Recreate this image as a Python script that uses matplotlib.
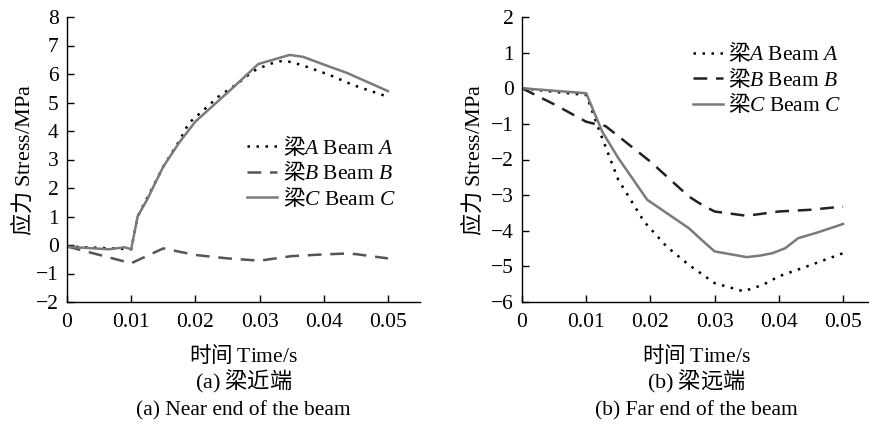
import matplotlib
matplotlib.use("Agg")
import matplotlib.pyplot as plt

plt.rcParams['font.family'] = ['Liberation Serif', 'Noto Sans CJK SC']
plt.rcParams['mathtext.fontset'] = 'custom'
plt.rcParams['mathtext.rm'] = 'Liberation Serif'
plt.rcParams['mathtext.it'] = 'Liberation Serif:italic'
plt.rcParams['mathtext.bf'] = 'Liberation Serif:bold'

CJK = 'Noto Sans CJK SC'

# ---------------- data: near end ----------------
t_near_A = [0, 0.005, 0.01, 0.011, 0.0125, 0.015, 0.0175, 0.019, 0.0215, 0.0235,
            0.0265, 0.029, 0.0315, 0.0335, 0.035, 0.0374, 0.041, 0.0446, 0.05]
near_A = [-0.05, -0.1, -0.15, 1.0, 1.65, 2.75, 3.65, 4.28, 4.78, 5.19,
          5.65, 6.1, 6.35, 6.46, 6.42, 6.25, 5.96, 5.61, 5.2]
t_near_B = [0, 0.01, 0.015, 0.02, 0.025, 0.03, 0.035, 0.04, 0.0435, 0.045, 0.05]
near_B = [-0.05, -0.64, -0.12, -0.35, -0.47, -0.55, -0.39, -0.33, -0.3, -0.32, -0.47]
t_near_C = [0, 0.0065, 0.009, 0.01, 0.011, 0.0125, 0.015, 0.0175, 0.02, 0.026, 0.0298,
            0.0347, 0.0368, 0.041, 0.0436, 0.05]
near_C = [-0.06, -0.15, -0.08, -0.15, 1.0, 1.6, 2.75, 3.6, 4.33, 5.55, 6.35,
          6.67, 6.6, 6.25, 6.04, 5.4]

# ---------------- data: far end ----------------
t_far_A = [0, 0.005, 0.01, 0.012, 0.015, 0.019, 0.0225, 0.026, 0.03, 0.0345, 0.0375,
           0.04, 0.045, 0.05]
far_A = [0, -0.1, -0.19, -1.17, -2.57, -3.74, -4.44, -4.96, -5.47, -5.7, -5.52,
         -5.28, -4.96, -4.63]
t_far_B = [0, 0.005, 0.01, 0.012, 0.013, 0.02, 0.026, 0.028, 0.03, 0.035, 0.04, 0.045, 0.05]
far_B = [0, -0.45, -0.94, -1.03, -1.06, -2.06, -3.04, -3.27, -3.46, -3.58, -3.46, -3.41, -3.32]
t_far_C = [0, 0.01, 0.0125, 0.015, 0.0195, 0.026, 0.028, 0.03, 0.035, 0.037, 0.039,
           0.041, 0.043, 0.046, 0.05]
far_C = [0, -0.14, -1.22, -1.96, -3.13, -3.93, -4.26, -4.58, -4.74, -4.7, -4.63,
         -4.49, -4.21, -4.05, -3.81]

x_ticks = [0, 0.01, 0.02, 0.03, 0.04, 0.05]
x_ticklabels = ['0', '0.01', '0.02', '0.03', '0.04', '0.05']
near_yticks = list(range(-2, 9))
far_yticks = list(range(-6, 3))

labels = [r'梁$\mathit{A}\ \mathrm{Beam}\ \mathit{A}$',
          r'梁$\mathit{B}\ \mathrm{Beam}\ \mathit{B}$',
          r'梁$\mathit{C}\ \mathrm{Beam}\ \mathit{C}$']
ylabel = r'应力 $\mathrm{Stress/MPa}$'
xlabel = r'时间 $\mathrm{Time/s}$'
cap_cn = [r'$\mathrm{(a)}$ 梁近端', r'$\mathrm{(b)}$ 梁远端']
cap_en = ['(a) Near end of the beam', '(b) Far end of the beam']

fig = plt.figure(figsize=(8.7, 4.25), dpi=100)
ax1 = fig.add_axes([67/870, 1-302/425, 353/870, 285/425])
ax2 = fig.add_axes([522/870, 1-302/425, 348/870, 285/425])

dot = (0, (1, 2.6))
dash = (0, (5.5, 3.5))
gray = '#7a7a7a'

hA, = ax1.plot(t_near_A, near_A, color='black', lw=1.8, linestyle=dot)
hB, = ax1.plot(t_near_B, near_B, color='#555555', lw=1.8, linestyle=dash)
hC, = ax1.plot(t_near_C, near_C, color=gray, lw=1.8)

gA, = ax2.plot(t_far_A, far_A, color='black', lw=1.8, linestyle=dot)
gB, = ax2.plot(t_far_B, far_B, color='#222222', lw=1.8, linestyle=dash)
gC, = ax2.plot(t_far_C, far_C, color=gray, lw=1.8)

ax1.set_xlim(0, 0.055)
ax1.set_ylim(-2, 8)
ax1.set_yticks(near_yticks)
ax2.set_xlim(0, 0.0542)
ax2.set_ylim(-6, 2)
ax2.set_yticks(far_yticks)

for ax, ylx in ((ax1, -0.092), (ax2, -0.108)):
    ax.set_xticks(x_ticks)
    ax.set_xticklabels(x_ticklabels)
    for s in ('top', 'right'):
        ax.spines[s].set_visible(False)
    ax.spines['left'].set_linewidth(1.0)
    ax.spines['bottom'].set_linewidth(1.0)
    ax.tick_params(direction='in', length=5, width=1.0, labelsize=15.5)
    ax.tick_params(axis='x', pad=8)
    ax.tick_params(axis='y', pad=6)
    ax.set_xlabel(xlabel, fontsize=15.5, family=CJK)
    ax.set_ylabel(ylabel, fontsize=16, family=CJK)
    ax.xaxis.set_label_coords(0.5, -0.145)
    ax.yaxis.set_label_coords(ylx, 0.5)

leg_kw = dict(frameon=False, handlelength=1.4, handletextpad=0.25,
              labelspacing=0.02, borderpad=0, borderaxespad=0, loc='upper left',
              prop={'family': CJK, 'size': 15.5})
ax1.legend([hA, hB, hC], labels, bbox_to_anchor=(0.51, 0.59), **leg_kw)
ax2.legend([gA, gB, gC], labels, bbox_to_anchor=(0.49, 0.918), **leg_kw)

for ax, cn, en in ((ax1, cap_cn[0], cap_en[0]), (ax2, cap_cn[1], cap_en[1])):
    bb = ax.get_position()
    xc = (bb.x0 + bb.x1) / 2
    fig.text(xc, 1 - 381/425, cn, ha='center', va='center', fontsize=16, family=CJK)
    fig.text(xc, 1 - 411/425, en, ha='center', va='center', fontsize=15.5)

fig.savefig('out.png', dpi=100)
